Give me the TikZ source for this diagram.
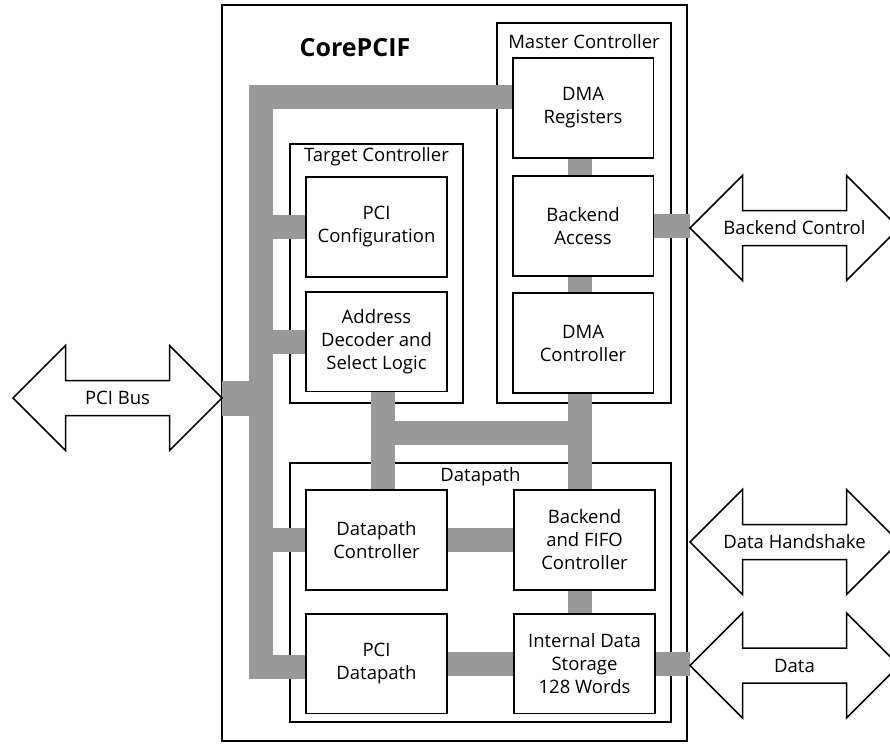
\documentclass[tikz,border=0pt]{standalone}
\usepackage{fontspec}
\setmainfont{Open Sans}
\usetikzlibrary{calc}
\definecolor{busgray}{RGB}{153,153,153}
\tikzset{
  txt/.style={font=\fontsize{18.5}{23}\selectfont, align=center, inner sep=0},
  outerbox/.style={draw, line width=1.8, inner sep=0},
  cont/.style={draw, line width=1.8, inner sep=0},
  blk/.style={draw, line width=1.8, fill=white, minimum width=139, minimum height=98, inner sep=0, align=center, font=\fontsize{18.5}{23}\selectfont},
  bus/.style={draw=busgray, line width=24, line join=miter},
  arrowshape/.style={draw, line width=1.5, fill=white, line join=miter},
}
\newcommand\blockarrow[1]{%
  \draw[arrowshape] ($(#1)+(-104.5,0)$) -- ++(52.5,-52.5) -- ++(0,35) -- ++(104,0) -- ++(0,-35) -- ++(52.5,52.5) -- ++(-52.5,52.5) -- ++(0,-35) -- ++(-104,0) -- ++(0,35) -- cycle;}
\begin{document}
\begin{tikzpicture}[x=1pt,y=-1pt]
\useasboundingbox (0,0) rectangle (890,744);
% outer and container boxes
\node[outerbox, minimum width=465, minimum height=736] (core) at (454.5,373) {};
\node[txt, font=\fontsize{25}{30}\selectfont\bfseries] (title) at (355,48) {CorePCIF};
\node[cont, minimum width=174, minimum height=380] (mc) at (584,213) {};
\node[txt] (mclab) at ($(mc.north)+(0,19)$) {Master Controller};
\node[cont, minimum width=173, minimum height=259] (tc) at (376.5,273.5) {};
\node[txt] (tclab) at ($(tc.north)+(0,14)$) {Target Controller};
\node[cont, minimum width=381, minimum height=259] (dp) at (480.5,592.5) {};
\node[txt] (dplab) at ($(dp.north)+(0,15)$) {Datapath};
% blocks (placed first for naming, drawn later on top)
\path
  node[blk] (dmareg) at (583,108) {DMA\\Registers}
  node[blk] (beacc) at (583,226) {Backend\\Access}
  node[blk] (dmactl) at (583,343) {DMA\\Controller}
  node[blk] (pcicfg) at (376.5,227) {PCI\\Configuration}
  node[blk] (addr) at (376.5,341.5) {Address\\Decoder and\\Select Logic}
  node[blk] (dpc) at (376.5,540) {Datapath\\Controller}
  node[blk] (bfifo) at (584.5,540) {Backend\\and FIFO\\Controller}
  node[blk] (pcidp) at (376.5,663.5) {PCI\\Datapath}
  node[blk] (ids) at (584.5,663.5) {Internal Data\\Storage\\128 Words};
% arrow text nodes
\node[txt] (pcibus) at (117.5,398) {};
\node[txt] (bectl) at (794.5,228) {};
\node[txt] (dhs) at (794.5,542) {};
\node[txt] (dat) at (794.5,665.5) {};
\coordinate (pcitip) at ($(pcibus)+(104.5,0)$);
\coordinate (bectltip) at ($(bectl)+(-104.5,0)$);
\coordinate (dattip) at ($(dat)+(-104.5,0)$);
% buses
\coordinate (tl) at (260.5,96.5);
\coordinate (bl) at (260.5,666.5);
\coordinate (ml) at (383,432.5);
\coordinate (mr) at (580,432.5);
\draw[bus] (tl -| dmareg.west) -- (tl) -- (bl) -- (bl -| pcidp.west);
\draw[bus] (pcicfg.west) -- (pcicfg.west -| tl);
\draw[bus] (addr.west) -- (addr.west -| tl);
\draw[bus] (dpc.west) -- (dpc.west -| tl);
\draw[draw=busgray, line width=35] (pcitip) -- (pcitip -| tl);
\draw[bus] (dpc.east) -- (bfifo.west);
\draw[bus] (pcidp.east) -- (ids.west);
\draw[bus] (ids.east) -- (ids.east -| dattip);
\draw[bus] (beacc.east) -- (beacc.east -| bectltip);
\draw[bus] (dmareg.south -| mr) -- (beacc.north -| mr);
\draw[bus] (beacc.south -| mr) -- (dmactl.north -| mr);
\draw[bus] (bfifo.south -| mr) -- (ids.north -| mr);
\draw[bus] (addr.south -| ml) -- (dpc.north -| ml);
\draw[bus] (dmactl.south -| mr) -- (bfifo.north -| mr);
\draw[bus, line cap=rect] (ml) -- (mr);
% redraw blocks on top
\foreach \n in {dmareg,beacc,dmactl,pcicfg,addr,dpc,bfifo,pcidp,ids}
  \draw[line width=1.8, fill=white] (\n.north west) rectangle (\n.south east);
\path
  node[blk, draw=none, fill=none] at (dmareg) {DMA\\Registers}
  node[blk, draw=none, fill=none] at (beacc) {Backend\\Access}
  node[blk, draw=none, fill=none] at (dmactl) {DMA\\Controller}
  node[blk, draw=none, fill=none] at (pcicfg) {PCI\\Configuration}
  node[blk, draw=none, fill=none] at (addr) {Address\\Decoder and\\Select Logic}
  node[blk, draw=none, fill=none] at (dpc) {Datapath\\Controller}
  node[blk, draw=none, fill=none] at (bfifo) {Backend\\and FIFO\\Controller}
  node[blk, draw=none, fill=none] at (pcidp) {PCI\\Datapath}
  node[blk, draw=none, fill=none] at (ids) {Internal Data\\Storage\\128 Words};
% block arrows
\blockarrow{pcibus}
\blockarrow{bectl}
\blockarrow{dhs}
\blockarrow{dat}
\node[txt] at (pcibus) {PCI Bus};
\node[txt] at (bectl) {Backend Control};
\node[txt] at (dhs) {Data Handshake};
\node[txt] at (dat) {Data};
\end{tikzpicture}
\end{document}
